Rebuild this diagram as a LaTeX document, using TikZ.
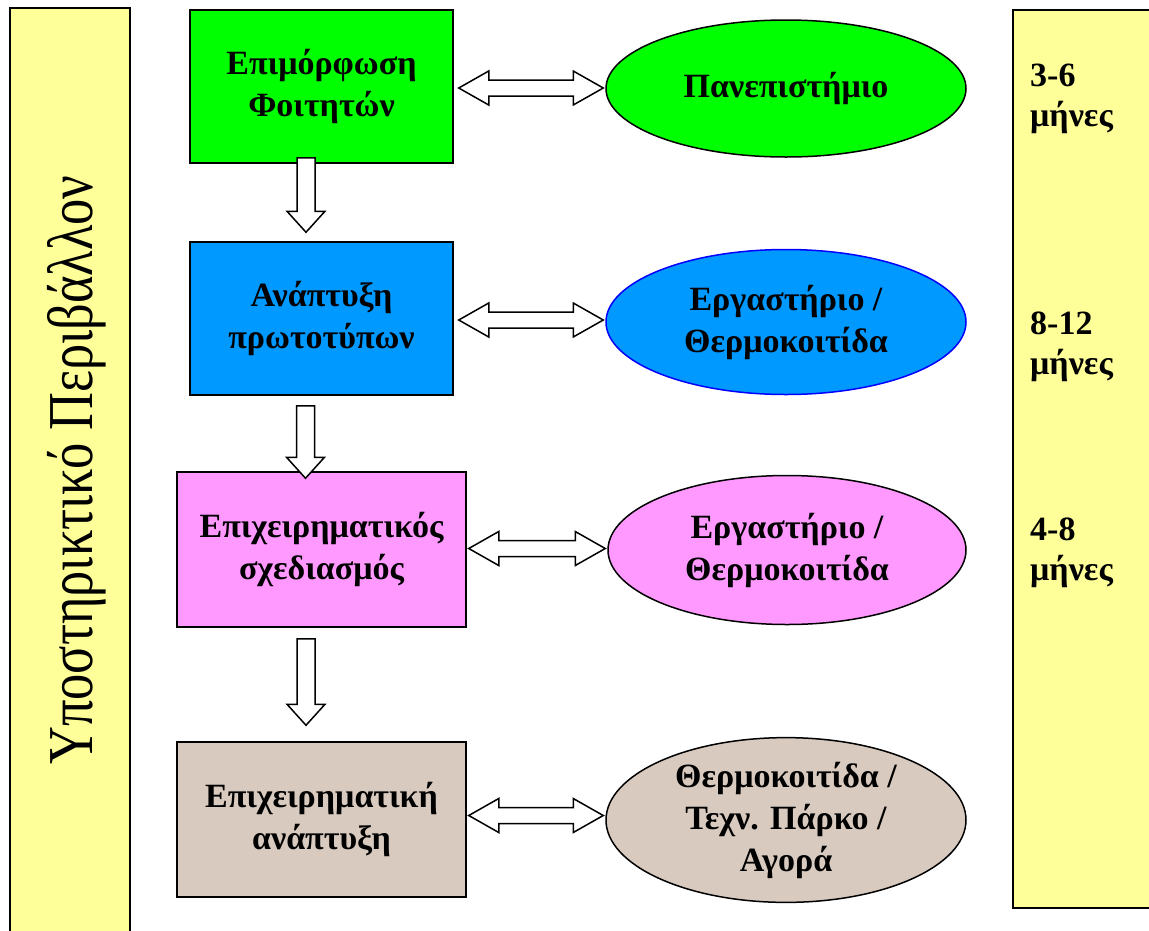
\documentclass[tikz,border=0pt]{standalone}
\usepackage{graphicx}
\usepackage{fontspec}
\setmainfont{Liberation Serif}
\usetikzlibrary{calc,shapes.geometric}

\definecolor{stagegreen}{RGB}{0,255,0}
\definecolor{stageblue}{RGB}{0,153,255}
\definecolor{stagepink}{RGB}{255,153,255}
\definecolor{stagetan}{RGB}{216,202,191}
\definecolor{baryellow}{RGB}{255,255,153}

\tikzset{
  stage/.style={draw=black, line width=1.5pt, minimum width=263pt, minimum height=153pt,
    align=center, font=\fontsize{34}{42}\selectfont\bfseries},
  place/.style={ellipse, draw=black, line width=1.5pt, inner sep=0pt, minimum width=360pt,
    align=center, font=\fontsize{34}{42}\selectfont\bfseries},
  fatarrow/.style={draw=black, fill=white, line width=1.5pt, line join=miter},
  sidebar/.style={draw=black, fill=baryellow, line width=1.5pt},
  period/.style={anchor=west, align=left, inner sep=0pt, font=\fontsize{34}{40}\selectfont\bfseries}
}

% hollow two-headed arrow, left end #1, right end #2
\newcommand{\biarrow}[2]{%
  \draw[fatarrow] let \p1=(#1), \p2=(#2) in
    (\x1,\y1) -- (\x1+30pt,\y1+17pt) -- (\x1+30pt,\y1+8pt) -- (\x2-30pt,\y1+8pt)
    -- (\x2-30pt,\y1+17pt) -- (\x2,\y1) -- (\x2-30pt,\y1-17pt) -- (\x2-30pt,\y1-8pt)
    -- (\x1+30pt,\y1-8pt) -- (\x1+30pt,\y1-17pt) -- cycle;}
% hollow downward arrow, top #1, tip #2
\newcommand{\fatdown}[2]{%
  \draw[fatarrow] let \p1=(#1), \p2=(#2) in
    (\x1-9pt,\y1) -- (\x1+9pt,\y1) -- (\x1+9pt,\y2+21pt) -- (\x1+19pt,\y2+21pt)
    -- (\x1,\y2) -- (\x1-19pt,\y2+21pt) -- (\x1-9pt,\y2+21pt) -- cycle;}

\begin{document}
\begin{tikzpicture}[x=1pt,y=-1pt]
  \useasboundingbox (0,0) rectangle (1149,930);

  % side bars
  \draw[sidebar] (10,8) rectangle (130,945);
  \draw[sidebar] (1013,10) rectangle (1160,908);
  \node[rotate=90, font=\fontsize{64}{64}\selectfont] (support) at (77,470)
    {\scalebox{0.82}[1]{Υποστηρικτικό Περιβάλλον}};

  % stages
  \node[stage, fill=stagegreen] (train) at (321.5,86.5) {Επιμόρφωση\\Φοιτητών};
  \node[stage, fill=stageblue] (proto) at (321.5,318.5) {Ανάπτυξη\\πρωτοτύπων};
  \node[stage, fill=stagepink, minimum width=289pt, minimum height=155pt] (plan)
    at (321.5,549.5) {Επιχειρηματικός\\σχεδιασμός};
  \node[stage, fill=stagetan, minimum width=289pt, minimum height=155pt] (growth)
    at (321.5,819.5) {Επιχειρηματική\\ανάπτυξη};

  % places
  \node[place, fill=stagegreen, minimum height=137pt] (uni) at (786,88.5) {Πανεπιστήμιο};
  \node[place, fill=stageblue, draw=blue, minimum height=145pt] (lab) at (786,322)
    {Εργαστήριο /\\Θερμοκοιτίδα};
  \node[place, fill=stagepink, minimum width=358pt, minimum height=149pt] (incub)
    at (787,550) {Εργαστήριο /\\Θερμοκοιτίδα};
  \node[place, fill=stagetan, minimum height=155pt] (park) at (786,820)
    {Θερμοκοιτίδα /\\Τεχν. Πάρκο /\\Αγορά};

  % durations
  \node[period] (t1) at (1030,99) {3-6\\μήνες};
  \node[period] (t2) at (1030,347) {8-12\\μήνες};
  \node[period] (t3) at (1030,553) {4-8\\μήνες};

  % links
  \biarrow{$(train.east)+(5,1.5)$}{$(uni.west)+(-2,0)$}
  \biarrow{$(proto.east)+(5,1.5)$}{$(lab.west)+(-2,0)$}
  \biarrow{$(plan.east)+(2,-1)$}{$(incub.west)+(-2,0)$}
  \biarrow{$(growth.east)+(2,-4)$}{$(park.west)+(-2,0)$}

  \fatdown{$(train.south)+(-15.5,-6)$}{$(proto.north)+(-15.5,-9)$}
  \fatdown{$(proto.south)+(-16,10)$}{$(plan.north)+(-16,7)$}
  \fatdown{$(plan.south)+(-15.5,11)$}{$(growth.north)+(-15.5,-16)$}
\end{tikzpicture}
\end{document}
